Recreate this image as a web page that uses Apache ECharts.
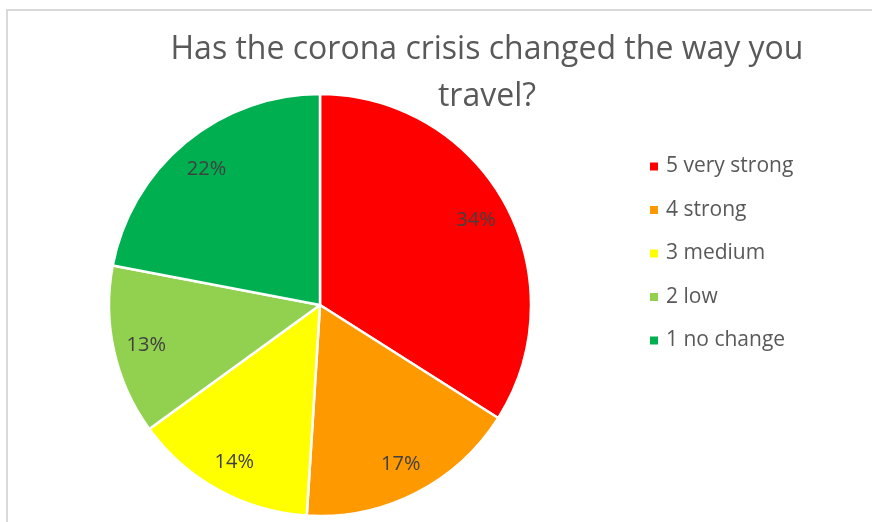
<!DOCTYPE html>
<html><head><meta charset="utf-8">
<script src="https://cdn.jsdelivr.net/npm/echarts@6/dist/echarts.min.js"></script>
<style>html,body{margin:0;padding:0;background:#fff}#c{width:872px;height:522px}</style>
</head><body><div id="c"></div>
<script>
const titleText = 'Has the corona crisis changed the way you\ntravel?';
const categories = ['5 very strong', '4 strong', '3 medium', '2 low', '1 no change'];
const values = [34, 17, 14, 13, 22];
const colors = ['#FF0000', '#FF9900', '#FFFF00', '#92D050', '#00B050'];
const FONT = '"Open Sans", Lato, sans-serif';

const data = categories.map((n, i) => ({ name: n, value: values[i], itemStyle: { color: colors[i] } }));

const chart = echarts.init(document.getElementById('c'));
chart.setOption({
  animation: false,
  graphic: [{
    type: 'rect', shape: { x: 7, y: 10, width: 900, height: 600 },
    style: { fill: 'none', stroke: '#D9D9D9', lineWidth: 2 }, silent: true, z: -10
  }],
  title: {
    text: titleText, left: 482, textAlign: 'center', top: 21,
    textStyle: { fontFamily: FONT, fontSize: 32, fontWeight: 'normal', color: '#595959', lineHeight: 47 }
  },
  legend: {
    orient: 'vertical', left: 648, top: 156, padding: 0, itemWidth: 10, itemHeight: 10, itemGap: 22.5,
    icon: 'rect',
    textStyle: { fontFamily: FONT, fontSize: 21, lineHeight: 20, color: '#595959', padding: [0, 0, 0, 2] },
    data: categories
  },
  series: [{
    type: 'pie', center: [320, 305], radius: [0, 211], startAngle: 90, clockwise: true,
    data: data,
    itemStyle: { borderColor: '#fff', borderWidth: 2.5 },
    label: { show: false }, labelLine: { show: false }
  }, {
    type: 'pie', center: [320, 306], radius: [140, 210], startAngle: 90, clockwise: true,
    silent: true, legendHoverLink: false,
    data: data.map(d => ({ name: d.name, value: d.value, itemStyle: { color: 'rgba(0,0,0,0)' } })),
    itemStyle: { borderWidth: 0 },
    label: { show: true, position: 'inside', formatter: p => p.value + '%',
      fontFamily: FONT, fontSize: 20, color: '#404040' },
    labelLine: { show: false }
  }]
});
</script></body></html>
